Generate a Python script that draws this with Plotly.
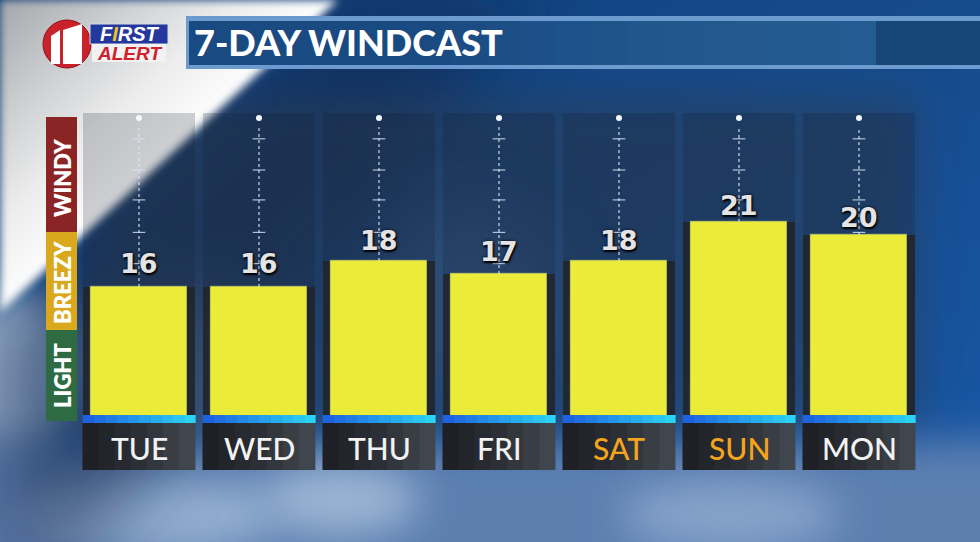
import base64
import plotly.graph_objects as go

# ---------------- data ----------------
DAYS = ["TUE", "WED", "THU", "FRI", "SAT", "SUN", "MON"]
WIND = [16, 16, 18, 17, 18, 21, 20]
WEEKEND = ["SAT", "SUN"]
SCALE_BANDS = ["LIGHT", "BREEZY", "WINDY"]
GUIDE_TOP = 29.0
GUIDE_TICKS = [27.4, 25.0, 22.7, 20.2, 17.8]
TITLE = "7-DAY WINDCAST"

# ---------------- layout helpers ----------------
W, H = 980, 542


def py(p):
    return (H - p) / H


def px(p):
    return p / W


IDX = list(range(len(DAYS)))
X_RANGE = [-1.1583, 7.0083]
Y_RANGE = [6.077, 38.077]
Y_DOMAIN = [py(416), 1.0]
FONT = "Lato"

# ---------------- background (image, no text) ----------------
svg = """<svg xmlns="http://www.w3.org/2000/svg" width="980" height="542" viewBox="0 0 980 542">
<defs>
<linearGradient id="sky" x1="0" y1="0" x2="1" y2="1">
<stop offset="0" stop-color="#0e3d78"/><stop offset="0.5" stop-color="#164b8c"/><stop offset="1" stop-color="#1858a8"/>
</linearGradient>
<linearGradient id="gray" gradientUnits="userSpaceOnUse" x1="0" y1="0" x2="160" y2="172">
<stop offset="0" stop-color="#a4a7ab"/><stop offset="0.4" stop-color="#cfd1d3"/><stop offset="0.7" stop-color="#ededed"/><stop offset="1" stop-color="#ffffff"/>
</linearGradient>
<filter id="b4" x="-20%" y="-20%" width="140%" height="140%"><feGaussianBlur stdDeviation="4"/></filter>
<filter id="b20" x="-50%" y="-50%" width="200%" height="200%"><feGaussianBlur stdDeviation="20"/></filter>
<filter id="b35" x="-50%" y="-50%" width="200%" height="200%"><feGaussianBlur stdDeviation="35"/></filter>
</defs>
<rect width="980" height="542" fill="url(#sky)"/>
<rect x="-60" y="440" width="1100" height="160" fill="#5b7fb0" filter="url(#b20)"/>
<ellipse cx="150" cy="515" rx="130" ry="40" fill="#94afd1" filter="url(#b20)"/>
<ellipse cx="340" cy="500" rx="80" ry="35" fill="#9cb5d4" filter="url(#b20)"/>
<ellipse cx="730" cy="515" rx="110" ry="35" fill="#86a3ca" filter="url(#b20)"/>
<ellipse cx="15" cy="370" rx="70" ry="80" fill="#9ab2d0" filter="url(#b20)"/>
<ellipse cx="170" cy="360" rx="90" ry="70" fill="#6a8cb8" filter="url(#b35)"/>
<polygon points="330,0 540,0 80,560 0,560 0,330" fill="#0b2446" opacity="0.5" filter="url(#b35)"/>
<rect x="90" y="95" width="830" height="330" fill="#2a3d57" opacity="0.55" filter="url(#b20)"/>
<ellipse cx="470" cy="300" rx="80" ry="90" fill="#3a5a80" opacity="0.5" filter="url(#b35)"/>
<polygon points="0,0 338,0 0,312" fill="url(#gray)" filter="url(#b4)"/>
</svg>"""
bg_uri = "data:image/svg+xml;base64," + base64.b64encode(svg.encode()).decode()

fig = go.Figure()

# column panels
fig.add_trace(go.Bar(x=IDX, y=[GUIDE_TOP + 0.4] * len(DAYS), width=0.94,
                     marker=dict(color="rgba(18,26,40,0.20)", line=dict(width=0)),
                     hoverinfo="skip"))

# bar shadow and bars
fig.add_trace(go.Bar(x=IDX, y=WIND, width=0.94,
                     marker=dict(color="rgba(34,38,44,0.92)", line=dict(width=0)),
                     hoverinfo="skip"))
fig.add_trace(go.Bar(x=IDX, y=WIND, width=0.8,
                     marker=dict(color="#ebeb3a", line=dict(color="rgba(250,250,120,0.45)", width=1.2)),
                     hoverinfo="skip"))

# dotted guide lines (above each bar top)
gx, gy = [], []
for i, v in zip(IDX, WIND):
    gx += [i, i, None]
    gy += [v, GUIDE_TOP - 0.7, None]
fig.add_trace(go.Scatter(x=gx, y=gy, mode="lines",
                         line=dict(color="rgba(215,228,245,0.85)", width=1.3, dash="dot"),
                         hoverinfo="skip"))
tx, ty = [], []
for i, v in zip(IDX, WIND):
    for t in GUIDE_TICKS:
        if t > v:
            tx.append(i)
            ty.append(t)
fig.add_trace(go.Scatter(x=tx, y=ty, mode="markers",
                         marker=dict(symbol="line-ew", size=9,
                                     line=dict(color="rgba(215,228,245,0.8)", width=1.2)),
                         hoverinfo="skip"))
fig.add_trace(go.Scatter(x=IDX, y=[GUIDE_TOP] * len(DAYS), mode="markers",
                         marker=dict(symbol="circle", size=6, color="#f4f8ff"),
                         hoverinfo="skip"))

shapes = []
annotations = []


def lerp(c1, c2, t):
    a = [int(c1[k:k + 2], 16) for k in (1, 3, 5)]
    b = [int(c2[k:k + 2], 16) for k in (1, 3, 5)]
    return "#%02x%02x%02x" % tuple(round(a[j] + (b[j] - a[j]) * t) for j in range(3))


# cyan strips and day boxes
for i, d in zip(IDX, DAYS):
    x0, x1 = i - 0.47, i + 0.47
    n = 10
    for k in range(n):
        shapes.append(dict(type="rect", xref="x", yref="paper",
                           x0=x0 + (x1 - x0) * k / n, x1=x0 + (x1 - x0) * (k + 1) / n + 0.002,
                           y0=py(423), y1=py(415), line=dict(width=0),
                           fillcolor=lerp("#1e62de", "#2cd2f4", k / (n - 1)), layer="above"))
    shapes.append(dict(type="rect", xref="x", yref="paper", x0=x0, x1=x1,
                       y0=py(470), y1=py(423), line=dict(width=0),
                       fillcolor="#40464e", layer="below"))
    for k in range(1, 7):
        shapes.append(dict(type="rect", xref="x", yref="paper", x0=x0, x1=x0 + (x1 - x0) * k / 7,
                           y0=py(470), y1=py(423), line=dict(width=0),
                           fillcolor="rgba(0,0,0,0.11)", layer="below"))
    annotations.append(dict(x=i, xref="x", y=py(448), yref="paper", text=d, showarrow=False,
                            xanchor="center", yanchor="middle",
                            font=dict(family=FONT, size=30, weight=500,
                                      color="#f5a51c" if d in WEEKEND else "#f2f2f2")))

# value labels
vmin = min(WIND)
for i, v in zip(IDX, WIND):
    annotations.append(dict(x=i, xref="x", y=v, yref="y", yshift=24 - 1.5 * (v - vmin),
                            text=str(v), showarrow=False, xanchor="center", yanchor="middle",
                            font=dict(family="DejaVu Sans", size=27, weight=700, color="#e4e4e4",
                                      shadow="0px 0px 3px #000, 1px 2px 2px #000")))

# left wind scale
band_px = [(330, 421, "#2e6a42"), (232, 330, "#d9a81c"), (117, 232, "#8b2424")]
label_px = [375, 282, 177]
for (top, bot, col), lab, cy in zip(band_px, SCALE_BANDS, label_px):
    shapes.append(dict(type="rect", xref="paper", yref="paper", x0=px(46), x1=px(77),
                       y0=py(bot), y1=py(top), line=dict(width=0), fillcolor=col, layer="below"))
    annotations.append(dict(x=px(62), xref="paper", y=py(cy), yref="paper", text=lab,
                            textangle=-90, showarrow=False, xanchor="center", yanchor="middle",
                            font=dict(family=FONT, size=22, weight=800, color="#ffffff")))

# title banner
shapes += [
    dict(type="rect", xref="paper", yref="paper", x0=px(186), x1=1, y0=py(69), y1=py(16),
         line=dict(width=0), fillcolor="#6e9bcf", layer="below"),
    dict(type="rect", xref="paper", yref="paper", x0=px(189), x1=1, y0=py(65), y1=py(21),
         line=dict(width=0), fillcolor="#1a4a82", layer="below"),
]
n = 12
for k in range(n):
    shapes.append(dict(type="rect", xref="paper", yref="paper",
                       x0=px(450 + (876 - 450) * k / n), x1=px(876), y0=py(65), y1=py(21),
                       line=dict(width=0), fillcolor="rgba(45,115,175,0.06)", layer="below"))
shapes.append(dict(type="rect", xref="paper", yref="paper", x0=px(876), x1=1, y0=py(65), y1=py(21),
                   line=dict(width=0), fillcolor="#184677", layer="below"))
annotations.append(dict(x=px(192), xref="paper", y=py(42), yref="paper", text=TITLE,
                        showarrow=False, xanchor="left", yanchor="middle",
                        font=dict(family=FONT, size=36, weight=900, color="#ffffff")))

# logo
shapes += [
    dict(type="circle", xref="paper", yref="paper", x0=px(43), x1=px(91), y0=py(68), y1=py(20),
         line=dict(color="#8e1018", width=1), fillcolor="#c9222b", layer="above"),
    dict(type="path", xref="paper", yref="paper",
         path="M %f,%f L %f,%f L %f,%f L %f,%f Z" % (px(51), py(36), px(60), py(30), px(60), py(64), px(51), py(64)),
         line=dict(width=0), fillcolor="#ffffff", layer="above"),
    dict(type="path", xref="paper", yref="paper",
         path="M %f,%f L %f,%f L %f,%f L %f,%f Z" % (px(63), py(30), px(82), py(24), px(82), py(64), px(63), py(64)),
         line=dict(width=0), fillcolor="#ffffff", layer="above"),
    dict(type="rect", xref="paper", yref="paper", x0=px(90), x1=px(168), y0=py(44), y1=py(24),
         line=dict(color="#d8d8e8", width=1), fillcolor="#22389e", layer="above"),
    dict(type="rect", xref="paper", yref="paper", x0=px(92), x1=px(166), y0=py(62), y1=py(44),
         line=dict(width=0), fillcolor="#f2f2f2", layer="above"),
]
annotations += [
    dict(x=px(130), xref="paper", y=py(34.5), yref="paper",
         text="F<span style='color:#f5c41c'>I</span>RST", showarrow=False,
         xanchor="center", yanchor="middle",
         font=dict(family="Liberation Sans", size=20, weight=700, style="italic", color="#ffffff")),
    dict(x=px(129), xref="paper", y=py(53.5), yref="paper", text="ALERT", showarrow=False,
         xanchor="center", yanchor="middle",
         font=dict(family="Liberation Sans", size=19, weight=700, style="italic", color="#d11f2b")),
]

fig.update_layout(
    width=W, height=H, margin=dict(l=0, r=0, t=0, b=0),
    paper_bgcolor="#15498a", plot_bgcolor="rgba(0,0,0,0)",
    barmode="overlay", bargap=0, showlegend=False,
    xaxis=dict(range=X_RANGE, domain=[0, 1], visible=False, fixedrange=True),
    yaxis=dict(range=Y_RANGE, domain=Y_DOMAIN, visible=False, fixedrange=True),
    images=[dict(source=bg_uri, xref="paper", yref="paper", x=0, y=1, sizex=1, sizey=1,
                 sizing="stretch", xanchor="left", yanchor="top", layer="below")],
    shapes=shapes, annotations=annotations,
)

fig.write_html("out.html", config={"displayModeBar": False},
               post_script="document.body.style.margin='0';document.body.style.overflow='hidden';")
